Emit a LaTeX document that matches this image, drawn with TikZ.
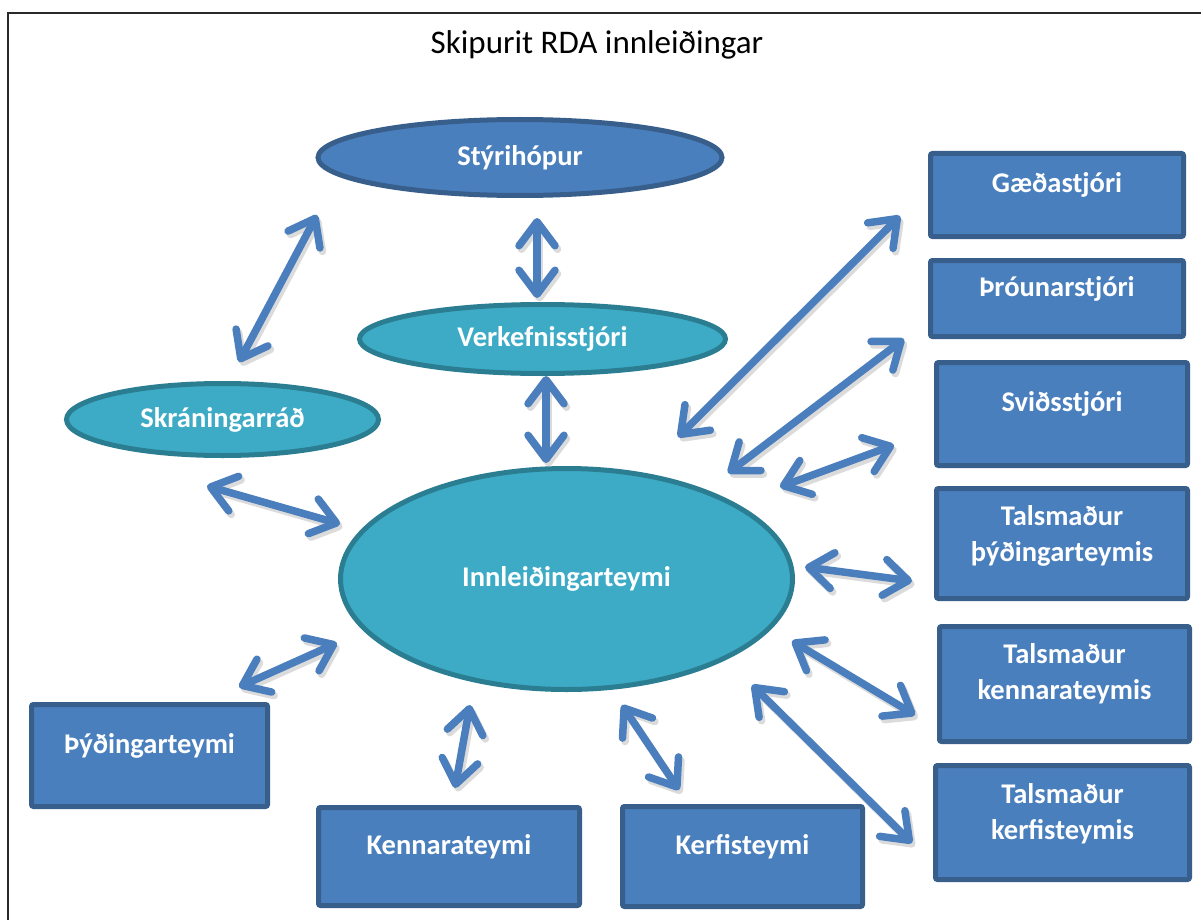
\documentclass[tikz,border=0pt]{standalone}
\usepackage{fontspec}
\setmainfont{Carlito}
\usetikzlibrary{shapes.geometric,arrows.meta}
\definecolor{boxfill}{HTML}{4A7FBE}
\definecolor{boxline}{HTML}{385E8B}
\definecolor{tealfill}{HTML}{3EABC6}
\definecolor{tealline}{HTML}{2B7E92}
\definecolor{arrowc}{HTML}{4A7EBD}
\definecolor{framec}{HTML}{2A2A2A}
\begin{document}
\begin{tikzpicture}[x=1pt,y=-1pt,
  bbox/.style={draw=boxline, fill=boxfill, line width=5pt, rounded corners=2pt, inner sep=0pt},
  btext/.style={text=white, font=\fontsize{28.5}{36}\selectfont\bfseries, align=center, inner sep=0pt},
  blueell/.style={ellipse, draw=boxline, fill=boxfill, line width=5pt, inner sep=0pt, text=white, font=\fontsize{28.5}{36}\selectfont\bfseries},
  tealell/.style={ellipse, draw=tealline, fill=tealfill, line width=5pt, inner sep=0pt, text=white, font=\fontsize{28.5}{36}\selectfont\bfseries},
  link/.style={draw=arrowc, line width=7.5pt, {Straight Barb[length=24pt,width=36pt,round]}-{Straight Barb[length=24pt,width=36pt,round]}},
  shade/.style={draw=black!14, line width=7.5pt, {Straight Barb[length=24pt,width=36pt,round]}-{Straight Barb[length=24pt,width=36pt,round]}, transform canvas={xshift=2.5pt,yshift=-3.5pt}}
]
\useasboundingbox (0,0) rectangle (1201,920);
\fill[white] (0,0) rectangle (1201,920);
% frame
\draw[framec, line width=2pt] (8,925) -- (8,13) -- (1205,13);
\node (title) at (597,45) {\fontsize{33}{38}\selectfont Skipurit RDA innleiðingar};

% arrow end coordinates
\coordinate (a1s) at (317,215); \coordinate (a1e) at (239,362);
\coordinate (a2s) at (537,218); \coordinate (a2e) at (537,298);
\coordinate (a3s) at (546,376); \coordinate (a3e) at (546,463);
\coordinate (a4s) at (207,486); \coordinate (a4e) at (340,524);
\coordinate (a5s) at (678,437); \coordinate (a5e) at (900,216);
\coordinate (a6s) at (728,473); \coordinate (a6e) at (904,339);
\coordinate (a7s) at (780,487); \coordinate (a7e) at (894,445);
\coordinate (a8s) at (805,567); \coordinate (a8e) at (912,581);
\coordinate (a9s) at (792,641); \coordinate (a9e) at (915,715);
\coordinate (a10s) at (752,685); \coordinate (a10e) at (912,843);
\coordinate (a11s) at (622,705); \coordinate (a11e) at (679,790);
\coordinate (a12s) at (470,705); \coordinate (a12e) at (455,788);
\coordinate (a13s) at (337,643); \coordinate (a13e) at (239,687);

% shadows
\foreach \i in {1,...,13} { \draw[shade] (a\i s) -- (a\i e); }

% ellipses
\node[blueell, minimum width=404pt, minimum height=76pt] (styr) at (520,157.5) {\raisebox{4pt}{Stýrihópur}};
\node[tealell, minimum width=366pt, minimum height=69pt] (verk) at (542.5,339) {Verkefnisstjóri};
\node[tealell, minimum width=312pt, minimum height=72pt] (skran) at (222.5,419.5) {Skráningarráð};
\node[tealell, minimum width=452pt, minimum height=221pt] (innl) at (566.5,579) {Innleiðingarteymi};

% right boxes
\node[bbox, minimum width=253pt, minimum height=83pt] (gaed) at (1057,195) {};
\node[btext] (gaedT) at ([yshift=10pt]gaed.center) {Gæðastjóri};
\node[bbox, minimum width=253pt, minimum height=76pt] (throun) at (1057,298.5) {};
\node[btext] (throunT) at ([yshift=10pt]throun.center) {Þróunarstjóri};
\node[bbox, minimum width=251pt, minimum height=103pt] (svid) at (1062,414) {};
\node[btext] (svidT) at ([yshift=10pt]svid.center) {Sviðsstjóri};
\node[bbox, minimum width=251pt, minimum height=110pt] (talth) at (1062,543.5) {};
\node[btext] (talthT) at ([yshift=8pt]talth.center) {Talsmaður\\þýðingarteymis};
\node[bbox, minimum width=250pt, minimum height=115pt] (talke) at (1064.5,684) {};
\node[btext] (talkeT) at ([yshift=10pt]talke.center) {Talsmaður\\kennarateymis};
\node[bbox, minimum width=254pt, minimum height=114pt] (talkf) at (1062.5,822.5) {};
\node[btext] (talkfT) at ([yshift=9pt]talkf.center) {Talsmaður\\kerfisteymis};

% bottom boxes
\node[bbox, minimum width=236pt, minimum height=102pt] (thyd) at (149.5,755.5) {};
\node[btext] (thydT) at ([yshift=10pt]thyd.center) {Þýðingarteymi};
\node[bbox, minimum width=261pt, minimum height=98pt] (kenn) at (449,856.5) {};
\node[btext] (kennT) at ([yshift=10pt]kenn.center) {Kennarateymi};
\node[bbox, minimum width=240pt, minimum height=100pt] (kerf) at (742.5,856.5) {};
\node[btext] (kerfT) at ([yshift=10pt]kerf.center) {Kerfisteymi};

% arrows
\foreach \i in {1,...,13} { \draw[link] (a\i s) -- (a\i e); }
\end{tikzpicture}
\end{document}
